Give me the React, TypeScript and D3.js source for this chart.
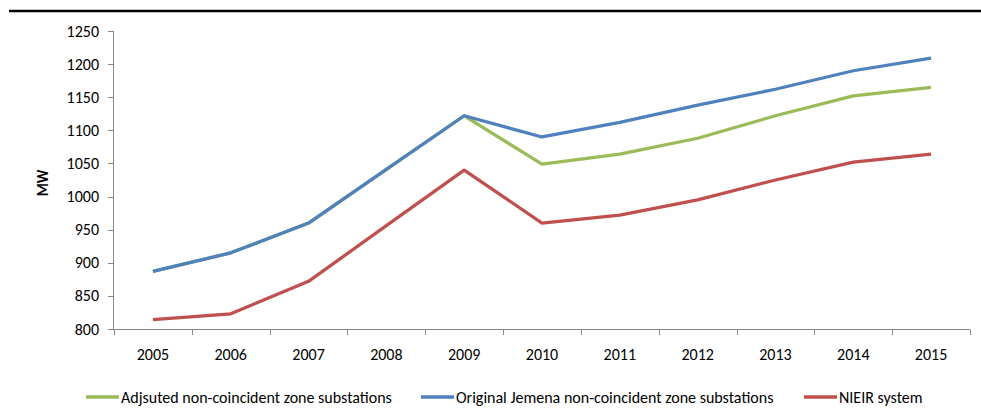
import React, { useEffect } from "react";
import * as d3 from "d3";

const years = ["2005", "2006", "2007", "2008", "2009", "2010", "2011", "2012", "2013", "2014", "2015"];
const adjusted = [887, 915, 960, 1041, 1122, 1049, 1064, 1088, 1122, 1152, 1165];
const original = [887, 915, 960, 1041, 1122, 1090, 1112, 1138, 1162, 1190, 1209];
const nieir = [814, 823, 872, 956, 1040, 960, 972, 995, 1025, 1052, 1064];
const yTicks = [800, 850, 900, 950, 1000, 1050, 1100, 1150, 1200, 1250];

const series = [
  { name: "Adjsuted non-coincident zone substations", values: adjusted, color: "#9BBB59" },
  { name: "Original Jemena non-coincident zone substations", values: original, color: "#4F81BD" },
  { name: "NIEIR system", values: nieir, color: "#C0504D" },
];

const width = 981;
const height = 416;
const font = "Carlito, Calibri, 'Liberation Sans Narrow', sans-serif";

export default function App() {
  useEffect(() => {
    document.body.style.margin = "0";
  }, []);

  const x = d3.scaleBand().domain(years).range([114, 970]).padding(0);
  const y = d3.scaleLinear().domain([800, 1250]).range([329, 31]);
  const line = d3.line<number>()
    .x((_, i) => (x(years[i]) as number) + x.bandwidth() / 2)
    .y(d => y(d));

  const legendX = [86, 421, 804];

  return (
    <svg width={width} height={height} style={{ display: "block", background: "#fff" }}>
      <line x1={9} x2={981} y1={11} y2={11} stroke="#000" strokeWidth={2.5} />

      {/* y axis */}
      <line x1={113.5} x2={113.5} y1={31} y2={329} stroke="#868686" />
      {yTicks.map(t => (
        <g key={t}>
          <line x1={108} x2={113.5} y1={Math.round(y(t)) + 0.5} y2={Math.round(y(t)) + 0.5} stroke="#868686" />
          <text x={99} y={y(t)} dy="0.35em" textAnchor="end" fontFamily={font} fontSize={16} fill="#000">{t}</text>
        </g>
      ))}
      <text transform="translate(48,183) rotate(-90)" textAnchor="middle" fontFamily={font} fontSize={15} fontWeight="bold">MW</text>

      {/* x axis */}
      <line x1={108} x2={970} y1={329.5} y2={329.5} stroke="#868686" />
      {years.concat(["end"]).map((yr, i) => {
        const px = Math.round(114 + i * x.bandwidth()) + 0.5;
        return <line key={yr} x1={px} x2={px} y1={329.5} y2={335} stroke="#868686" />;
      })}
      {years.map(yr => (
        <text key={yr} x={(x(yr) as number) + x.bandwidth() / 2} y={360} textAnchor="middle" fontFamily={font} fontSize={16}>{yr}</text>
      ))}

      {/* lines */}
      {series.map(s => (
        <path key={s.name} d={line(s.values) || ""} fill="none" stroke={s.color} strokeWidth={3.25} strokeLinejoin="round" />
      ))}

      {/* legend */}
      {series.map((s, i) => (
        <g key={s.name}>
          <line x1={legendX[i]} x2={legendX[i] + 33} y1={397} y2={397} stroke={s.color} strokeWidth={3.5} />
          <text x={legendX[i] + 35} y={397} dy="0.35em" fontFamily={font} fontSize={16}>{s.name}</text>
        </g>
      ))}
    </svg>
  );
}
